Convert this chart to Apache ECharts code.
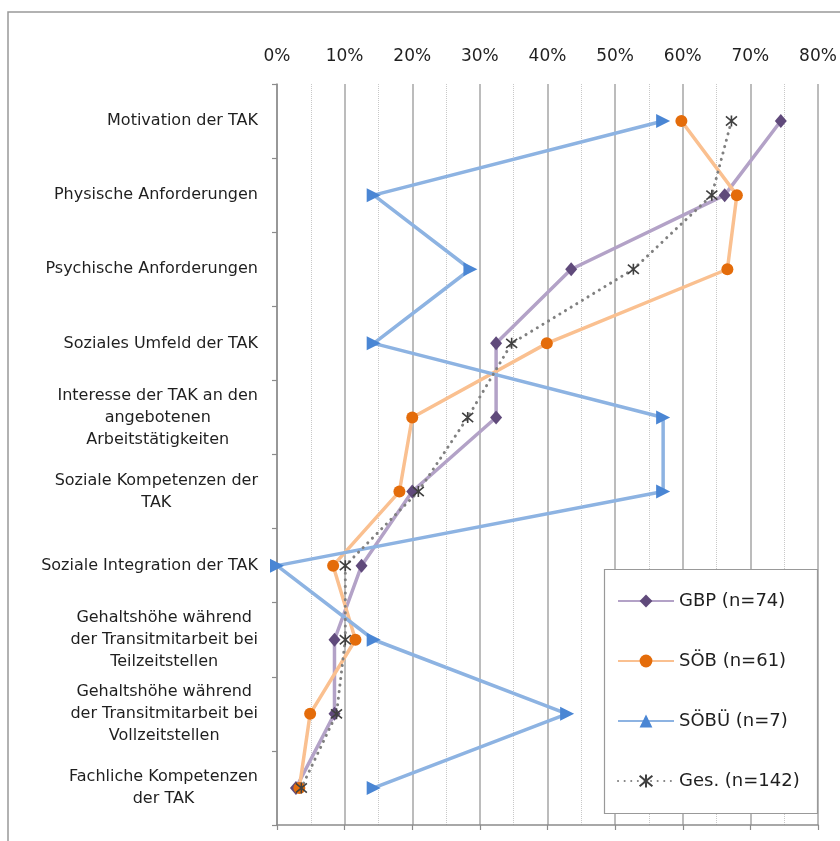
<!DOCTYPE html>
<html>
<head>
<meta charset="utf-8">
<script src="https://cdn.jsdelivr.net/npm/echarts@6/dist/echarts.min.js"></script>
<style>
html,body{margin:0;padding:0;background:#fff;}
#c{width:840px;height:841px;}
</style>
</head>
<body>
<div id="c"></div>
<script>
const categories = [
  'Motivation der TAK',
  'Physische Anforderungen',
  'Psychische Anforderungen',
  'Soziales Umfeld der TAK',
  'Interesse der TAK an den\nangebotenen\nArbeitstätigkeiten',
  'Soziale Kompetenzen der\nTAK',
  'Soziale Integration der TAK',
  'Gehaltshöhe während\nder Transitmitarbeit bei\nTeilzeitstellen',
  'Gehaltshöhe während\nder Transitmitarbeit bei\nVollzeitstellen',
  'Fachliche Kompetenzen\nder TAK'
];
const seriesNames = ['GBP (n=74)', 'SÖB (n=61)', 'SÖBÜ (n=7)', 'Ges. (n=142)'];
const gbp   = [74.5, 66.2, 43.5, 32.4, 32.4, 20.0, 12.5, 8.5, 8.5, 2.8];
const soeb  = [59.8, 68.0, 66.6, 39.9, 20.0, 18.1, 8.3, 11.6, 4.9, 3.3];
const soebue= [57.1, 14.3, 28.6, 14.3, 57.1, 57.1, 0.0, 14.3, 42.9, 14.3];
const ges   = [67.2, 64.3, 52.7, 34.7, 28.2, 20.9, 10.1, 10.1, 8.8, 3.6];
const xTicks = {min: 0, max: 80, interval: 10};

const FONT = 'DejaVu Sans';
const TXT = '#1f1f1f';
const AX = '#8c8c8c';

const chart = echarts.init(document.getElementById('c'));
const starPath = 'path://M0,0L10,10M10,0L0,10M5,-1L5,11';

chart.setOption({
  animation: false,
  backgroundColor: '#fff',
  textStyle: {fontFamily: FONT},
  grid: {left: 277, right: 22, top: 84, bottom: 16},
  graphic: [
    {type: 'rect', z: 0, shape: {x: 8, y: 12, width: 900, height: 900},
     style: {fill: 'none', stroke: '#999', lineWidth: 1.5}},
    {type: 'rect', z: 50, shape: {x: 604.5, y: 569.5, width: 213, height: 244},
     style: {fill: '#fff', stroke: '#999', lineWidth: 1.2}}
  ],
  legend: {
    z: 60,
    orient: 'vertical',
    left: 617, top: 592,
    padding: 0,
    itemWidth: 56, itemHeight: 16, itemGap: 42,
    symbolRotate: 0,
    textStyle: {fontSize: 18, color: TXT, fontFamily: FONT},
    data: seriesNames
  },
  xAxis: [
    {
      type: 'value', position: 'top', min: xTicks.min, max: xTicks.max, interval: xTicks.interval,
      axisLine: {show: false}, axisTick: {show: false},
      axisLabel: {formatter: '{value}%', fontSize: 17, color: TXT, margin: 19, fontFamily: FONT},
      splitLine: {show: true, lineStyle: {color: '#a6a6a6', width: 1.5}},
      minorTick: {show: false, splitNumber: 2},
      minorSplitLine: {show: true, lineStyle: {color: '#c8c8c8', type: 'dotted', width: 1}}
    },
    {
      type: 'value', position: 'bottom', min: xTicks.min, max: xTicks.max, interval: xTicks.interval,
      axisLine: {show: true, lineStyle: {color: AX, width: 1.5}},
      axisTick: {show: true, length: 5, lineStyle: {color: AX, width: 1.2}},
      axisLabel: {show: false},
      splitLine: {show: false}
    }
  ],
  yAxis: {
    type: 'category', inverse: true, data: categories,
    axisLine: {show: true, lineStyle: {color: AX, width: 1.5}},
    axisTick: {show: true, length: 5, lineStyle: {color: AX, width: 1.2}},
    axisLabel: {
      margin: 19,
      formatter: v => '{a|' + v + '}',
      rich: {a: {align: 'center', fontSize: 16, lineHeight: 22, color: TXT, fontFamily: FONT}}
    },
    splitLine: {show: false}
  },
  series: [
    {
      name: seriesNames[0], type: 'line', data: gbp,
      symbol: 'diamond', symbolSize: [12, 14],
      lineStyle: {color: '#b3a2c7', width: 3.5},
      itemStyle: {color: '#604a7b'}
    },
    {
      name: seriesNames[1], type: 'line', data: soeb,
      symbol: 'circle', symbolSize: 12,
      lineStyle: {color: '#fac090', width: 3.5},
      itemStyle: {color: '#e46c0a'}
    },
    {
      name: seriesNames[2], type: 'line', data: soebue,
      symbol: 'triangle', symbolSize: 14, symbolRotate: -90,
      lineStyle: {color: '#8db3e2', width: 3.5},
      itemStyle: {color: '#4a86d4'}
    },
    {
      name: seriesNames[3], type: 'line', data: ges,
      symbol: starPath, symbolSize: 11,
      lineStyle: {color: '#808080', width: 3, type: [0.1, 6.5], cap: 'round'},
      itemStyle: {color: 'rgba(0,0,0,0)', borderColor: '#404040', borderWidth: 1.6}
    }
  ]
});
</script>
</body>
</html>
